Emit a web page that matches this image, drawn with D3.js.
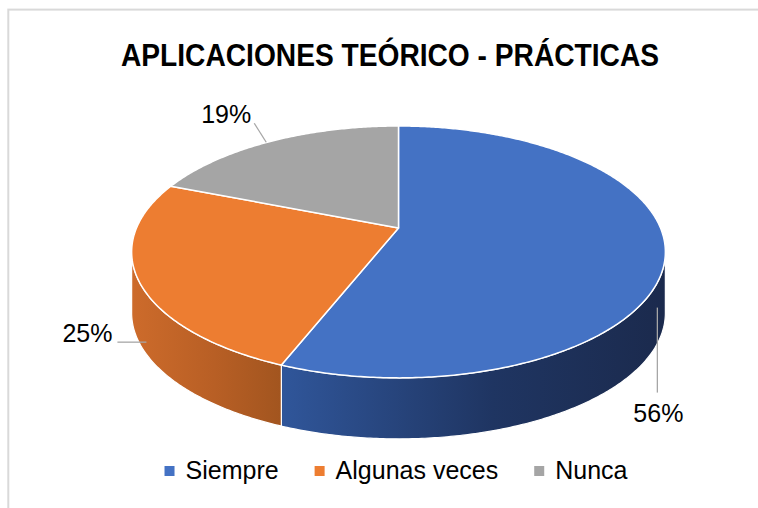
<!DOCTYPE html>
<html lang="es">
<head>
    <meta charset="UTF-8">
    <title>aplicaciones</title>
    <script src="https://d3js.org/d3.v7.min.js"></script>
    <style>
        html, body {
            padding: 0;
            margin: 0;
            background: white;
        }
        svg {
            display: block;
            font-family: "Liberation Sans", Arial, sans-serif;
        }
    </style>
</head>
<body>
<script>
    // datos del grafico
    const categories = ["Siempre", "Algunas veces", "Nunca"];
    const values = [56, 25, 19];
    const labels = ["56%", "25%", "19%"];
    const colors = ["#4472c4", "#ed7d31", "#a5a5a5"];
    // degradado de la pared lateral (claro -> oscuro)
    const sideColors = [["#30569a", "#1f3562", "#1b2a4d"], ["#cd6b2b", "#b85f25", "#a2551f"], ["#8c8c8c", "#7a7a7a", "#6b6b6b"]];

    const width = 758, height = 508;

    // geometria del pastel 3D (perspectiva simple)
    const cx = 398.5, cy = 228, A = 262, B = 121.4, k = 0.19, depth = 61;

    function proj(a) {
        const u = Math.sin(a), v = -Math.cos(a);
        const w = 1 - k * v;
        return [cx + A * u / w, cy + B * v / w];
    }

    function samples(s, e) {
        const n = Math.max(2, Math.ceil((e - s) / 0.01));
        return d3.range(n + 1).map(i => proj(s + (e - s) * i / n));
    }

    const svg = d3.select("body").append("svg")
        .attr("width", width)
        .attr("height", height);

    svg.append("rect")
        .attr("x", 8.3).attr("y", 9.6)
        .attr("width", 800).attr("height", 600)
        .attr("fill", "none")
        .attr("stroke", "#d9d9d9")
        .attr("stroke-width", 2);

    svg.append("text")
        .attr("x", 390).attr("y", 66)
        .attr("text-anchor", "middle")
        .attr("font-size", 31)
        .attr("font-weight", "bold")
        .attr("textLength", 538)
        .attr("lengthAdjust", "spacingAndGlyphs")
        .attr("fill", "#000")
        .text("APLICACIONES TEÓRICO - PRÁCTICAS");

    const pie = d3.pie().sort(null).startAngle(0).endAngle(2 * Math.PI);
    const arcs = pie(values);

    const defs = svg.append("defs");
    sideColors.forEach((c, i) => {
        const g = defs.append("linearGradient")
            .attr("id", "side" + i)
            .attr("x1", 0).attr("x2", 1).attr("y1", 0).attr("y2", 0);
        g.append("stop").attr("offset", 0).attr("stop-color", c[0]);
        g.append("stop").attr("offset", 0.55).attr("stop-color", c[1]);
        g.append("stop").attr("offset", 1).attr("stop-color", c[2]);
    });

    const line = d3.line();

    // paredes laterales visibles
    const t1 = Math.acos(-k), t2 = 2 * Math.PI - Math.acos(-k);
    const walls = svg.append("g");
    arcs.forEach((d, i) => {
        const s = Math.max(d.startAngle, t1), e = Math.min(d.endAngle, t2);
        if (e <= s) return;
        const top = samples(s, e);
        const bottom = top.slice().reverse().map(p => [p[0], p[1] + depth]);
        walls.append("path")
            .attr("d", line(top.concat(bottom)) + "Z")
            .attr("fill", `url(#side${i})`)
            .attr("stroke", "#fff")
            .attr("stroke-width", 1.2)
            .attr("stroke-linejoin", "round");
    });

    // caras superiores
    const tops = svg.append("g");
    arcs.forEach((d, i) => {
        const pts = [[cx, cy]].concat(samples(d.startAngle, d.endAngle));
        tops.append("path")
            .attr("d", line(pts) + "Z")
            .attr("fill", colors[i])
            .attr("stroke", "#fff")
            .attr("stroke-width", 1.5)
            .attr("stroke-linejoin", "round");
    });

    // etiquetas con lineas guia (desplazamientos respecto al punto medio del sector)
    const labelLayout = [
        {l: [[-8, 56], [-8, 141]], t: [-7, 170], anchor: "middle"},
        {l: [[8, 62], [-21, 62]], t: [-26, 62], anchor: "end"},
        {l: [[-5, 1], [-17, -18]], t: [-45, -18], anchor: "middle"}
    ];
    const lab = svg.append("g");
    arcs.forEach((d, i) => {
        const p = proj((d.startAngle + d.endAngle) / 2);
        const L = labelLayout[i];
        lab.append("path")
            .attr("d", line(L.l.map(o => [p[0] + o[0], p[1] + o[1]])))
            .attr("stroke", "#a6a6a6")
            .attr("stroke-width", 1.3)
            .attr("fill", "none");
        lab.append("text")
            .attr("x", p[0] + L.t[0]).attr("y", p[1] + L.t[1])
            .attr("text-anchor", L.anchor)
            .attr("font-size", 25)
            .attr("fill", "#000")
            .text(labels[i]);
    });

    // leyenda
    const legend = svg.append("g");
    const items = categories.map((c, i) => {
        const g = legend.append("g");
        g.append("rect").attr("width", 10).attr("height", 10).attr("y", -13).attr("fill", colors[i]);
        const t = g.append("text").attr("x", 21).attr("font-size", 25).attr("fill", "#000").text(c);
        return {g, w: 21 + t.node().getComputedTextLength()};
    });
    const gap = 36;
    const total = d3.sum(items, d => d.w) + gap * (items.length - 1);
    let x0 = 396 - total / 2;
    items.forEach(it => {
        it.g.attr("transform", `translate(${x0},479)`);
        x0 += it.w + gap;
    });
</script>
</body>
</html>
